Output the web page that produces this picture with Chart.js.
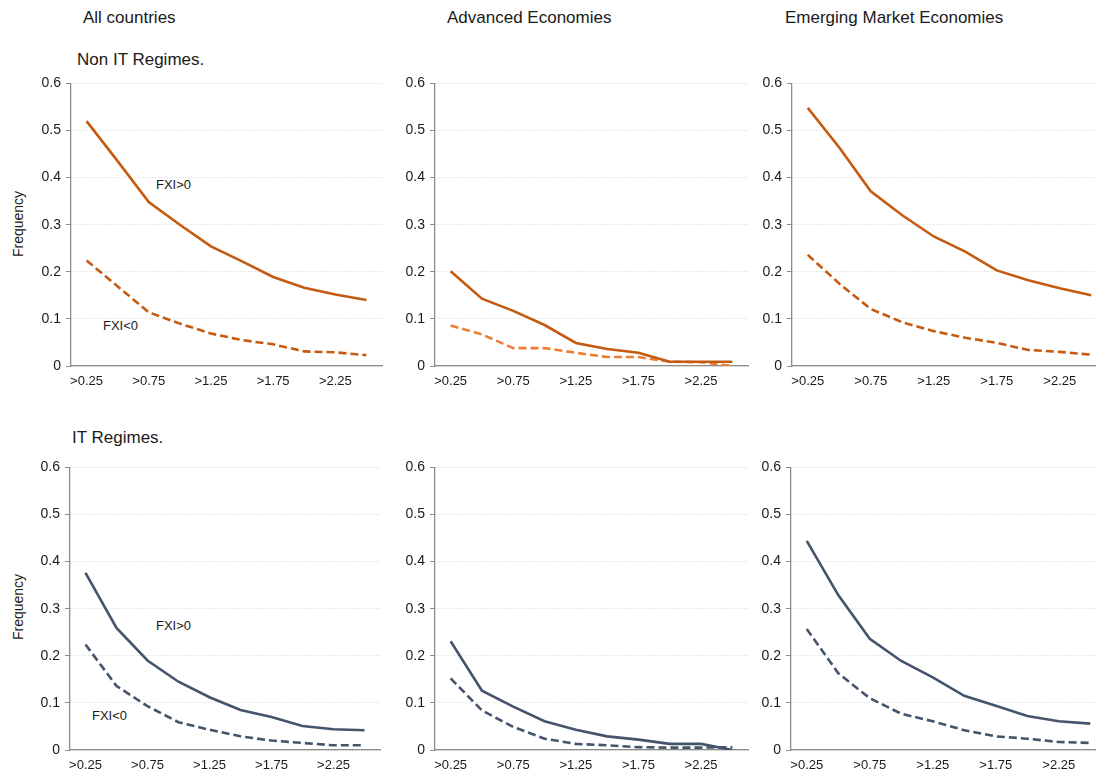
<!DOCTYPE html>
<html>
<head>
<meta charset="utf-8">
<script src="https://cdn.jsdelivr.net/npm/chart.js@4/dist/chart.umd.min.js"></script>
<style>
  html, body { margin: 0; padding: 0; background: #fff; }
  body { width: 1096px; height: 774px; position: relative; overflow: hidden;
         font-family: "Liberation Sans", Arial, sans-serif; color: #1a1a1a; }
  canvas { position: absolute; }
  .txt { position: absolute; white-space: nowrap; line-height: 1; }
  .col { font-size: 17px; }
  .row { font-size: 17px; }
  .note { font-size: 13px; }
  .ylab { font-size: 14px; transform: translate(-50%, -50%) rotate(-90deg); }
</style>
</head>
<body>

<div class="txt col" style="left:83px; top:9px;">All countries</div>
<div class="txt col" style="left:447px; top:9px;">Advanced Economies</div>
<div class="txt col" style="left:785px; top:9px;">Emerging Market Economies</div>

<div class="txt row" style="left:77px; top:51px;">Non IT Regimes.</div>
<div class="txt row" style="left:72px; top:429px;">IT Regimes.</div>

<div class="txt ylab" style="left:18px; top:224px;">Frequency</div>
<div class="txt ylab" style="left:18px; top:607px;">Frequency</div>

<div class="txt note" style="left:156px; top:178px;">FXI&gt;0</div>
<div class="txt note" style="left:103px; top:319px;">FXI&lt;0</div>
<div class="txt note" style="left:156px; top:619px;">FXI&gt;0</div>
<div class="txt note" style="left:92px; top:709px;">FXI&lt;0</div>

<canvas id="c1"></canvas>
<canvas id="c2"></canvas>
<canvas id="c3"></canvas>
<canvas id="c4"></canvas>
<canvas id="c5"></canvas>
<canvas id="c6"></canvas>

<script>
// Size-of-intervention thresholds on the horizontal axis
const categories = ['>0.25', '>0.5', '>0.75', '>1', '>1.25', '>1.5', '>1.75', '>2', '>2.25', '>2.5'];
const yTicks = [0, 0.1, 0.2, 0.3, 0.4, 0.5, 0.6];

// Non IT regimes: frequency of FX purchases (FXI>0) and sales (FXI<0)
const allNonItPos = [0.520, 0.435, 0.348, 0.300, 0.254, 0.222, 0.189, 0.166, 0.152, 0.140];
const allNonItNeg = [0.224, 0.169, 0.114, 0.090, 0.069, 0.055, 0.046, 0.031, 0.029, 0.023];
const advNonItPos = [0.201, 0.143, 0.117, 0.087, 0.049, 0.036, 0.028, 0.009, 0.009, 0.009];
const advNonItNeg = [0.086, 0.067, 0.038, 0.038, 0.028, 0.019, 0.019, 0.009, 0.008, 0.000];
const emNonItPos  = [0.548, 0.464, 0.371, 0.320, 0.275, 0.243, 0.203, 0.182, 0.165, 0.150];
const emNonItNeg  = [0.236, 0.175, 0.121, 0.093, 0.074, 0.060, 0.049, 0.034, 0.030, 0.024];

// IT regimes
const allItPos = [0.376, 0.259, 0.190, 0.145, 0.112, 0.085, 0.070, 0.051, 0.044, 0.042];
const allItNeg = [0.224, 0.136, 0.093, 0.059, 0.043, 0.029, 0.020, 0.015, 0.010, 0.010];
const advItPos = [0.231, 0.126, 0.092, 0.061, 0.043, 0.029, 0.022, 0.013, 0.013, 0.000];
const advItNeg = [0.152, 0.084, 0.049, 0.024, 0.013, 0.010, 0.006, 0.005, 0.005, 0.006];
const emItPos  = [0.444, 0.329, 0.236, 0.189, 0.154, 0.115, 0.094, 0.072, 0.061, 0.056];
const emItNeg  = [0.257, 0.163, 0.110, 0.077, 0.061, 0.042, 0.029, 0.024, 0.017, 0.015];

const ORANGE = '#C55A11';
const ORANGE_LIGHT = '#ED7D31';
const NAVY = '#44546A';

const AXIS_W = 45;   // room for y tick labels
const X_AXIS_H = 30; // room for x tick labels
const PAD_TOP = 10;
const PAD_RIGHT = 6;
const PLOT_H = 286;

const panels = [
  { id: 'c1', left: 71,  top: 80,  width: 311, pos: allNonItPos, neg: allNonItNeg, solid: ORANGE, dashed: ORANGE },
  { id: 'c2', left: 435, top: 80,  width: 313, pos: advNonItPos, neg: advNonItNeg, solid: ORANGE, dashed: ORANGE_LIGHT },
  { id: 'c3', left: 792, top: 80,  width: 315, pos: emNonItPos,  neg: emNonItNeg,  solid: ORANGE, dashed: ORANGE },
  { id: 'c4', left: 70,  top: 464, width: 310, pos: allItPos,    neg: allItNeg,    solid: NAVY,   dashed: NAVY },
  { id: 'c5', left: 435, top: 464, width: 313, pos: advItPos,    neg: advItNeg,    solid: NAVY,   dashed: NAVY },
  { id: 'c6', left: 791, top: 464, width: 315, pos: emItPos,     neg: emItNeg,     solid: NAVY,   dashed: NAVY }
];

const FONT = "'Liberation Sans', Arial, sans-serif";

panels.forEach(p => {
  const cv = document.getElementById(p.id);
  const w = AXIS_W + p.width + PAD_RIGHT;
  const h = PAD_TOP + PLOT_H + X_AXIS_H;
  cv.width = w;
  cv.height = h;
  cv.style.width = w + 'px';
  cv.style.height = h + 'px';
  cv.style.left = (p.left - AXIS_W) + 'px';
  cv.style.top = (p.top - PAD_TOP) + 'px';

  new Chart(cv, {
    type: 'line',
    data: {
      labels: categories,
      datasets: [
        { label: 'FXI>0', data: p.pos, borderColor: p.solid, borderWidth: 2.6,
          pointRadius: 0, tension: 0, fill: false },
        { label: 'FXI<0', data: p.neg, borderColor: p.dashed, borderWidth: 2.6,
          borderDash: [8, 4], pointRadius: 0, tension: 0, fill: false }
      ]
    },
    options: {
      responsive: false,
      animation: false,
      devicePixelRatio: 1,
      layout: { padding: { top: PAD_TOP, right: PAD_RIGHT, left: 0, bottom: 0 } },
      plugins: { legend: { display: false }, tooltip: { enabled: false } },
      scales: {
        x: {
          type: 'category',
          offset: true,
          grid: { display: false, drawTicks: false },
          border: { display: true, color: '#8c8c8c', width: 1.3 },
          ticks: {
            autoSkip: false,
            maxRotation: 0,
            padding: 8,
            color: '#1a1a1a',
            font: { family: FONT, size: 13 },
            callback: (v, i) => (i % 2 === 0 ? categories[i] : '')
          },
          afterFit: s => { s.height = X_AXIS_H; }
        },
        y: {
          min: 0,
          max: 0.6,
          afterBuildTicks: s => { s.ticks = yTicks.map(v => ({ value: v })); },
          grid: { color: '#d4d4d4', lineWidth: 1, drawTicks: true, tickLength: 5,
                  tickColor: '#8c8c8c', tickWidth: 1 },
          border: { display: true, color: '#8c8c8c', width: 1.3, dash: [1, 2] },
          ticks: {
            padding: 5,
            color: '#1a1a1a',
            font: { family: FONT, size: 14 },
            callback: v => (v === 0 ? '0' : v.toFixed(1))
          },
          afterFit: s => { s.width = AXIS_W; }
        }
      }
    }
  });
});
</script>
</body>
</html>
